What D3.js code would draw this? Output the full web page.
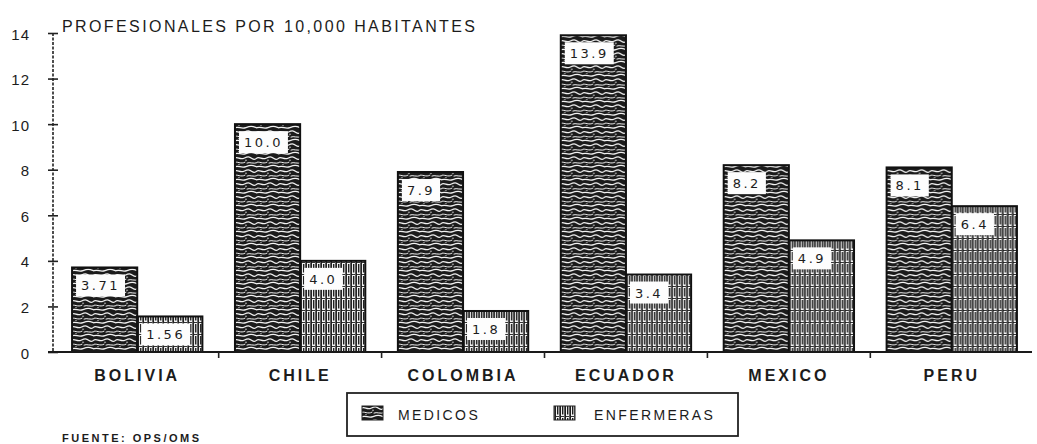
<!DOCTYPE html>
<html>
<head>
<meta charset="utf-8">
<script src="https://cdn.jsdelivr.net/npm/d3@7"></script>
<style>
  body { margin: 0; background: #fff; }
  text { fill: #1c1c1c; }
</style>
</head>
<body>
<div class="chart"></div>
<script>
//Data
const countries = ["BOLIVIA", "CHILE", "COLOMBIA", "ECUADOR", "MEXICO", "PERU"];
const series = ["MEDICOS", "ENFERMERAS"];
const medicos = [3.71, 10.0, 7.9, 13.9, 8.2, 8.1];
const enfermeras = [1.56, 4.0, 1.8, 3.4, 4.9, 6.4];
const yTicks = [0, 2, 4, 6, 8, 10, 12, 14];
const title = "PROFESIONALES POR 10,000 HABITANTES";
const source = "FUENTE: OPS/OMS";

const data = countries.map((c, i) => ({country: c, MEDICOS: medicos[i], ENFERMERAS: enfermeras[i]}));

//Size
const W = 1037, H = 444;

const svg = d3.select('.chart')
  .append('svg')
  .attr('width', W)
  .attr('height', H);

//Patterns (scan texture)
const defs = svg.append('defs');
const pMed = defs.append('pattern')
  .attr('id', 'pat-med')
  .attr('patternUnits', 'userSpaceOnUse')
  .attr('width', 22).attr('height', 13);
pMed.append('rect').attr('width', 22).attr('height', 13).attr('fill', '#1b1b1b');
const medWaves = [
  'M0,2 C3,0.5 5,4 9,2.2 S14,0.3 17,2.5 S20,3 22,2',
  'M-1,6.5 C2,4.8 6,8.6 10,6.2 M12,7 C15,5.5 18,8.5 23,6.5',
  'M0,10.8 C4,9 6,12.5 11,10.6 S17,9.2 22,10.8'
];
pMed.selectAll('path')
  .data(medWaves)
  .enter()
  .append('path')
  .attr('d', d => d)
  .attr('fill', 'none')
  .attr('stroke', '#f2f2f2')
  .attr('stroke-width', (d, i) => i == 1 ? 1.0 : 1.25)
  .attr('stroke-linecap', 'round');
pMed.append('circle').attr('cx', 11).attr('cy', 4.3).attr('r', 0.7).attr('fill', '#f2f2f2');
pMed.append('circle').attr('cx', 4).attr('cy', 8.6).attr('r', 0.6).attr('fill', '#f2f2f2');

const pEnf = defs.append('pattern')
  .attr('id', 'pat-enf')
  .attr('patternUnits', 'userSpaceOnUse')
  .attr('width', 5).attr('height', 12);
pEnf.append('rect').attr('width', 5).attr('height', 12).attr('fill', '#f4f4f4');
pEnf.append('rect').attr('x', 0.3).attr('y', 0).attr('width', 1.7).attr('height', 12).attr('fill', '#1e1e1e');
pEnf.append('rect').attr('x', 3).attr('y', 0).attr('width', 1.4).attr('height', 8.5).attr('fill', '#1e1e1e');
pEnf.append('rect').attr('x', 2).attr('y', 10).attr('width', 3).attr('height', 1).attr('fill', '#333');

const fills = {MEDICOS: 'url(#pat-med)', ENFERMERAS: 'url(#pat-enf)'};

//Scales
const xScale = d3.scaleBand()
  .domain(countries)
  .range([53, 1036])
  .paddingInner(0.2)
  .paddingOuter(0.117);

const xInner = d3.scaleBand()
  .domain(series)
  .range([0, xScale.bandwidth()]);

const yScale = d3.scaleLinear()
  .domain([0, 14])
  .range([352, 33]);

//Title
svg.append('text')
  .attr('x', 62)
  .attr('y', 32)
  .attr('font-family', 'Liberation Sans, Arial, sans-serif')
  .attr('font-size', 16)
  .attr('textLength', 413)
  .attr('lengthAdjust', 'spacing')
  .text(title);

//Bars
const groups = svg.selectAll('.group')
  .data(data)
  .enter()
  .append('g')
  .attr('class', 'group')
  .attr('transform', d => `translate(${xScale(d.country)},0)`);

const cells = groups.selectAll('.cell')
  .data(d => series.map(s => ({key: s, value: d[s]})))
  .enter()
  .append('g')
  .attr('class', 'cell');

cells.append('rect')
  .attr('class', 'bar')
  .attr('x', d => xInner(d.key))
  .attr('y', d => yScale(d.value))
  .attr('width', xInner.bandwidth())
  .attr('height', d => yScale(0) - yScale(d.value))
  .attr('fill', d => fills[d.key])
  .attr('stroke', '#111')
  .attr('stroke-width', 2);

//Value labels in white boxes
const fmt = v => Number.isInteger(Math.round(v * 100) / 10) ? v.toFixed(1) : v.toFixed(2);
cells.each(function(d) {
  const g = d3.select(this);
  const bx = xInner(d.key) + 4;
  const by = yScale(d.value) + 7;
  const box = g.append('rect')
    .attr('x', bx)
    .attr('y', by)
    .attr('height', 22)
    .attr('fill', '#fdfdfd');
  const t = g.append('text')
    .attr('x', bx + 5)
    .attr('y', by + 16)
    .attr('font-family', 'DejaVu Sans, sans-serif')
    .attr('font-size', 13)
    .attr('letter-spacing', 2.5)
    .text(fmt(d.value));
  box.attr('width', t.node().getComputedTextLength() + 10);
});

//Y axis
const yAxis = d3.axisLeft(yScale)
  .tickValues(yTicks)
  .tickSize(5)
  .tickPadding(18);

const yAxisContainer = svg.append('g')
  .attr('class', 'axis y-axis')
  .attr('transform', 'translate(53,0)')
  .call(yAxis);

yAxisContainer.select('.domain').remove();
yAxisContainer.append('line')
  .attr('x1', 0).attr('x2', 0)
  .attr('y1', yScale(14)).attr('y2', yScale(0))
  .attr('stroke', '#222')
  .attr('stroke-width', 1.6)
  .attr('stroke-dasharray', '3,1.5');
yAxisContainer.selectAll('.tick line')
  .attr('x1', -5).attr('x2', 5)
  .attr('stroke', '#222')
  .attr('stroke-width', 1.6);
yAxisContainer.selectAll('.tick text')
  .attr('font-family', 'Liberation Sans, Arial, sans-serif')
  .attr('font-size', 15)
  .attr('letter-spacing', 1)
  .attr('dy', '0.4em')
  .style('fill', '#1c1c1c');

//X axis
const xAxis = d3.axisBottom(xScale)
  .tickSize(0)
  .tickPadding(18);

const xAxisContainer = svg.append('g')
  .attr('class', 'axis x-axis')
  .attr('transform', `translate(0,${yScale(0)})`)
  .call(xAxis);

xAxisContainer.select('.domain').remove();
xAxisContainer.append('line')
  .attr('x1', 48).attr('x2', 1032)
  .attr('y1', 0).attr('y2', 0)
  .attr('stroke', '#1a1a1a')
  .attr('stroke-width', 2);
xAxisContainer.selectAll('.tick text')
  .attr('font-family', 'Liberation Sans, Arial, sans-serif')
  .attr('font-weight', 'bold')
  .attr('font-size', 16)
  .attr('letter-spacing', 3)
  .style('fill', '#1c1c1c');

//Separator ticks between groups
const gap = xScale.step() * xScale.paddingInner();
xAxisContainer.selectAll('.sep')
  .data(countries.slice(1))
  .enter()
  .append('line')
  .attr('class', 'sep')
  .attr('x1', d => xScale(d) - gap / 2)
  .attr('x2', d => xScale(d) - gap / 2)
  .attr('y1', 0).attr('y2', 6)
  .attr('stroke', '#222')
  .attr('stroke-width', 1.6);

//Legend
const legend = svg.append('g').attr('class', 'legend');
legend.append('rect')
  .attr('x', 347).attr('y', 393)
  .attr('width', 391).attr('height', 43)
  .attr('fill', 'none')
  .attr('stroke', '#222')
  .attr('stroke-width', 1.8);

const legendX = {MEDICOS: 362, ENFERMERAS: 554};
const legendItem = legend.selectAll('.item')
  .data(series)
  .enter()
  .append('g')
  .attr('class', 'item')
  .attr('transform', d => `translate(${legendX[d]},406)`);

legendItem.append('rect')
  .attr('width', 21).attr('height', 14)
  .attr('fill', d => fills[d])
  .attr('stroke', '#222')
  .attr('stroke-width', 1);

legendItem.append('text')
  .attr('x', d => d == 'MEDICOS' ? 36 : 40)
  .attr('y', 14)
  .attr('font-family', 'Liberation Sans, Arial, sans-serif')
  .attr('font-size', 14)
  .attr('letter-spacing', 2.4)
  .text(d => d);

//Source note
svg.append('text')
  .attr('x', 62)
  .attr('y', 442)
  .attr('font-family', 'Liberation Sans, Arial, sans-serif')
  .attr('font-weight', 'bold')
  .attr('font-size', 11)
  .attr('letter-spacing', 2.5)
  .text(source);
</script>
</body>
</html>
